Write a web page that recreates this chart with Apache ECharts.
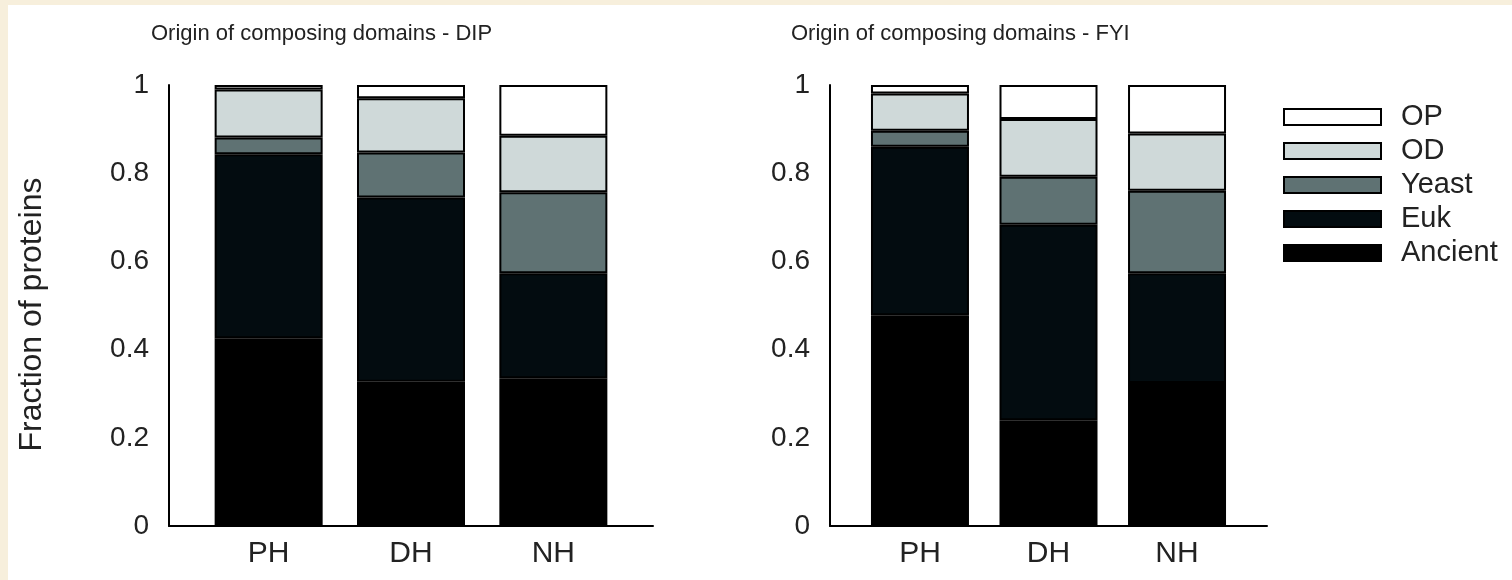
<!DOCTYPE html>
<html>
<head>
<meta charset="utf-8">
<script src="https://cdn.jsdelivr.net/npm/echarts@6/dist/echarts.min.js"></script>
<style>
html,body{margin:0;padding:0;background:#fff;}
#main{width:1512px;height:580px;}
</style>
</head>
<body>
<div id="main"></div>
<script>
// categories and their positions on the x scale
var groups = ['PH', 'DH', 'NH'];
var groupPos = [1, 2, 3];
var legendOrder = ['OP', 'OD', 'Yeast', 'Euk', 'Ancient'];
var yTicks = [0, 0.2, 0.4, 0.6, 0.8, 1];

// DIP - fraction of proteins by origin (PH, DH, NH)
var dipAncient = [0.426, 0.327, 0.335];
var dipEuk     = [0.417, 0.418, 0.238];
var dipYeast   = [0.038, 0.102, 0.184];
var dipOD      = [0.109, 0.123, 0.128];
var dipOP      = [0.010, 0.030, 0.115];

// FYI
var fyiAncient = [0.478, 0.240, 0.324];
var fyiEuk     = [0.382, 0.443, 0.249];
var fyiYeast   = [0.036, 0.109, 0.187];
var fyiOD      = [0.085, 0.131, 0.130];
var fyiOP      = [0.019, 0.077, 0.110];

var font = "'Liberation Sans', Arial, sans-serif";
var txt = '#222';
var colors = {OP:'#ffffff', OD:'#cfd9d9', Yeast:'#5f7273', Euk:'#030c10', Ancient:'#000000'};

function makeSeries(idx, stack, width, sets){
    var out = [];
    var names = ['Ancient', 'Euk', 'Yeast', 'OD', 'OP'];
    for(var k=0;k<names.length;k++){
        var vals = sets[k];
        out.push({
            type:'bar',
            name:names[k],
            xAxisIndex:idx,
            yAxisIndex:idx,
            stack:stack,
            barWidth:width,
            encode:{x:1, y:0},
            itemStyle:{color:colors[names[k]], borderColor:'#000', borderWidth:2},
            emphasis:{disabled:true},
            data:vals.map(function(v,i){ return [v, groupPos[i]]; })
        });
    }
    return out;
}

function xAx(idx){
    return {
        type:'value', gridIndex:idx, min:0.3, max:3.7,
        axisLine:{show:true, lineStyle:{color:'#000', width:2}},
        axisTick:{show:false},
        splitLine:{show:false},
        axisLabel:{
            customValues:groupPos,
            formatter:function(v){ return groups[groupPos.indexOf(v)]; },
            fontSize:30, color:txt, fontFamily:font, margin:13
        }
    };
}
function yAx(idx, name){
    return {
        type:'value', gridIndex:idx, min:0, max:1, interval:0.2,
        name:name, nameLocation:'middle', nameGap:121,
        nameTextStyle:{fontSize:32, color:txt, fontFamily:font, padding:[0,0,0,-18]},
        axisLine:{show:true, lineStyle:{color:'#000', width:2}},
        axisTick:{show:false},
        splitLine:{show:false},
        axisLabel:{fontSize:28, color:txt, fontFamily:font, margin:20}
    };
}

var chart = echarts.init(document.getElementById('main'));
var option = {
    backgroundColor:'#ffffff',
    animation:false,
    textStyle:{fontFamily:font},
    graphic:[
        {type:'rect', z:-10, shape:{x:0,y:0,width:1512,height:5}, style:{fill:'#f7efdc'}},
        {type:'rect', z:-10, shape:{x:0,y:0,width:8,height:580}, style:{fill:'#f7efdc'}}
    ],
    title:[
        {text:'Origin of composing domains - DIP', left:146, top:18,
         textStyle:{fontSize:22, fontWeight:'normal', color:txt, fontFamily:font}},
        {text:'Origin of composing domains - FYI', left:786, top:18,
         textStyle:{fontSize:22, fontWeight:'normal', color:txt, fontFamily:font}}
    ],
    legend:{
        data:legendOrder, orient:'vertical', left:1278, top:95,
        itemWidth:97, itemHeight:16, itemGap:0, icon:'rect', selectedMode:false,
        textStyle:{fontSize:29, lineHeight:34, color:txt, fontFamily:font, padding:[0,0,0,15]}
    },
    grid:[
        {left:169, right:859, top:85, bottom:54},
        {left:830, right:245, top:85, bottom:54}
    ],
    xAxis:[xAx(0), xAx(1)],
    yAxis:[yAx(0, 'Fraction of proteins'), yAx(1, '')],
    series:[].concat(
        makeSeries(0, 'dip', 108, [dipAncient, dipEuk, dipYeast, dipOD, dipOP]),
        makeSeries(1, 'fyi', 98, [fyiAncient, fyiEuk, fyiYeast, fyiOD, fyiOP])
    )
};
chart.setOption(option);
</script>
</body>
</html>
